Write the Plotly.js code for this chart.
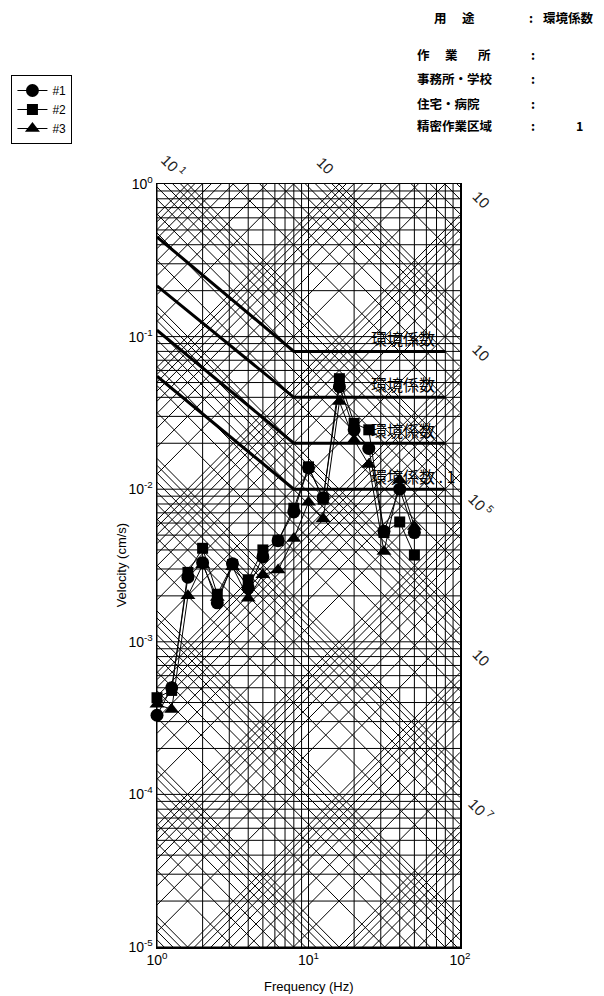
<!DOCTYPE html>
<html><head><meta charset="utf-8">
<script src="https://cdn.plot.ly/plotly-3.0.1.min.js"></script>
<style>html,body{margin:0;padding:0;background:#fff}#chart{width:604px;height:996px}</style>
</head><body><div id="chart"></div>
<script>
// ---- measured data (1/3 octave band centres) ----
const freqHz = [1, 1.25, 1.6, 2, 2.5, 3.15, 4, 5, 6.3, 8, 10, 12.5, 16, 20, 25, 31.5, 40, 50];
const series1 = [3.3e-4, 5.0e-4, 2.65e-3, 3.3e-3, 1.8e-3, 3.25e-3, 2.25e-3, 3.6e-3, 4.6e-3, 7.1e-3, 1.38e-2, 8.8e-3, 4.7e-2, 2.45e-2, 1.85e-2, 5.3e-3, 1.0e-2, 5.2e-3];
const series2 = [4.3e-4, 4.8e-4, 2.85e-3, 4.1e-3, 2.05e-3, 3.2e-3, 2.55e-3, 4.0e-3, 4.6e-3, 7.5e-3, 1.4e-2, 8.6e-3, 5.3e-2, 2.7e-2, 2.45e-2, 5.2e-3, 6.1e-3, 3.7e-3];
const series3 = [3.9e-4, 3.6e-4, 2.0e-3, 3.2e-3, 1.95e-3, 3.1e-3, 1.93e-3, 2.75e-3, 2.95e-3, 4.75e-3, 8.2e-3, 6.4e-3, 3.75e-2, 2.1e-2, 1.45e-2, 3.9e-3, 1.15e-2, 5.7e-3];
const seriesNames = ['#1', '#2', '#3'];
const seriesSymbols = ['circle', 'square', 'triangle-up'];
const seriesSizes = [13, 11, 13];

// ---- environmental criteria curves (環境係数) ----
const criteriaFreq = [1, 8, 80];
const criteriaA = [0.45, 0.08, 0.08];
const criteriaB = [0.215, 0.04, 0.04];
const criteriaC = [0.11, 0.02, 0.02];
const criteriaD = [0.055, 0.01, 0.01];
const criteriaLabels = ['環境係数', '環境係数', '環境係数', '環境係数 . 1'];
const criteriaLabelFreq = 25;

// ---- tripartite scale ----
const gridDigits = [1, 2, 3, 4, 5, 6, 7, 8, 9];
const freqDecades = [0, 1];
const velDecades = [-5, -4, -3, -2, -1];
const dispDecades = [-8, -7, -6, -5, -4, -3, -2, -1];
const accDecades = [-5, -4, -3, -2, -1, 0, 1, 2];
const accLabelExp = [1, 2];
const accLabelText = ['10<sup> 1</sup>', '10'];
const dispLabelExp = [-3, -4, -5, -6, -7];
const dispLabelText = ['10', '10', '10<sup> 5</sup>', '10', '10<sup> 7</sup>'];

// ---- header text ----
const headerRows = [
  {items: [['用', 432], ['途', 460]], colon: 528, y: 17, value: '環境係数', valueX: 542},
  {items: [['作', 415], ['業', 443], ['所', 476]], colon: 530, y: 54, value: '', valueX: 578},
  {items: [['事務所・学校', 415]], colon: 530, y: 79, value: '', valueX: 578},
  {items: [['住宅・病院', 415]], colon: 530, y: 103, value: '', valueX: 578},
  {items: [['精密作業区域', 415]], colon: 530, y: 126, value: '1', valueX: 575}
];

const F_MIN = 1, F_MAX = 100, V_MIN = 1e-5, V_MAX = 1;
const TWO_PI = 2 * Math.PI;
const L = 154, R = 460, T = 184, B = 947;
const xp = px => (px - L) / (R - L);
const yp = py => (B - py) / (B - T);
const lxp = lf => lf / 2;          // log10(f) -> paper
const lyp = lv => (lv + 5) / 5;    // log10(v) -> paper

const traces = [];
const gridLine = {color: '#000', width: 1};

// vertical & horizontal grid
{
  const xs = [], ys = [];
  freqDecades.forEach(n => gridDigits.forEach(k => {
    const f = k * Math.pow(10, n);
    xs.push(f, f, null); ys.push(V_MIN, V_MAX, null);
  }));
  velDecades.forEach(n => gridDigits.forEach(k => {
    const v = k * Math.pow(10, n);
    xs.push(F_MIN, F_MAX, null); ys.push(v, v, null);
  }));
  traces.push({x: xs, y: ys, mode: 'lines', line: gridLine, showlegend: false, hoverinfo: 'skip'});
}
// displacement lines (slope +1): v = 2*pi*f*d
{
  const xs = [], ys = [];
  dispDecades.forEach(n => gridDigits.forEach(k => {
    const d = k * Math.pow(10, n);
    xs.push(F_MIN, F_MAX, null); ys.push(TWO_PI * F_MIN * d, TWO_PI * F_MAX * d, null);
  }));
  traces.push({x: xs, y: ys, mode: 'lines', line: gridLine, showlegend: false, hoverinfo: 'skip'});
}
// acceleration lines (slope -1): v = a/(2*pi*f)
{
  const xs = [], ys = [];
  accDecades.forEach(n => gridDigits.forEach(k => {
    const a = k * Math.pow(10, n);
    xs.push(F_MIN, F_MAX, null); ys.push(a / (TWO_PI * F_MIN), a / (TWO_PI * F_MAX), null);
  }));
  traces.push({x: xs, y: ys, mode: 'lines', line: gridLine, showlegend: false, hoverinfo: 'skip'});
}

// criteria curves
[criteriaA, criteriaB, criteriaC, criteriaD].forEach(c => {
  traces.push({x: criteriaFreq, y: c, mode: 'lines', line: {color: '#000', width: 3}, showlegend: false, hoverinfo: 'skip'});
});

// data series
[series1, series2, series3].forEach((s, i) => {
  traces.push({
    x: freqHz, y: s, name: seriesNames[i], mode: 'lines+markers', cliponaxis: false,
    line: {color: '#000', width: 1},
    marker: {symbol: seriesSymbols[i], size: seriesSizes[i], color: '#000'}
  });
});

const annotations = [];
const labFont = {family: 'Liberation Sans, Arial, sans-serif', size: 15, color: '#222'};
accLabelExp.forEach((m, i) => {
  const lf = Math.log10(Math.pow(10, m) / TWO_PI);
  annotations.push({x: lxp(lf - 0.09), y: lyp(0.12), xref: 'paper', yref: 'paper', text: accLabelText[i], showarrow: false,
    textangle: 45, font: labFont, xanchor: 'center', yanchor: 'middle'});
});
dispLabelExp.forEach((n, i) => {
  const lv = Math.log10(TWO_PI * F_MAX * Math.pow(10, n));
  annotations.push({x: lxp(2 + 0.14), y: lyp(lv + 0.1), xref: 'paper', yref: 'paper', text: dispLabelText[i], showarrow: false,
    textangle: 45, font: labFont, xanchor: 'center', yanchor: 'middle'});
});
[criteriaA, criteriaB, criteriaC, criteriaD].forEach((c, i) => {
  annotations.push({x: Math.log10(criteriaLabelFreq), y: Math.log10(c[2]), xref: 'x', yref: 'y',
    text: criteriaLabels[i], showarrow: false, xanchor: 'left', yanchor: 'bottom', yshift: -1,
    font: {family: 'Noto Sans CJK JP, sans-serif', size: 16, color: '#000'}});
});
const hdrFont = {family: 'Noto Sans CJK JP, sans-serif', size: 12.5, color: '#000', weight: 'bold'};
headerRows.forEach(r => {
  r.items.forEach(([t, x]) => annotations.push({x: xp(x), y: yp(r.y), xref: 'paper', yref: 'paper', text: t,
    showarrow: false, xanchor: 'left', yanchor: 'middle', font: hdrFont}));
  annotations.push({x: xp(r.colon), y: yp(r.y), xref: 'paper', yref: 'paper', text: ':', showarrow: false,
    xanchor: 'left', yanchor: 'middle', font: hdrFont});
  if (r.value) annotations.push({x: xp(r.valueX), y: yp(r.y), xref: 'paper', yref: 'paper', text: r.value,
    showarrow: false, xanchor: 'left', yanchor: 'middle', font: hdrFont});
});
annotations.push({x: xp(118), y: yp(565), xref: 'paper', yref: 'paper', text: 'Velocity (cm/s)', textangle: -90,
  showarrow: false, xanchor: 'center', yanchor: 'middle', font: {family: 'Liberation Sans, Arial, sans-serif', size: 13, color: '#000'}});
annotations.push({x: xp(307), y: yp(986), xref: 'paper', yref: 'paper', text: 'Frequency (Hz)',
  showarrow: false, xanchor: 'center', yanchor: 'middle', font: {family: 'Liberation Sans, Arial, sans-serif', size: 13, color: '#000'}});

const xTickVals = [1, 10, 100];
const xTickText = ['10<sup>0</sup>', '10<sup>1</sup>', '10<sup>2</sup>'];
const yTickVals = [1e-5, 1e-4, 1e-3, 1e-2, 1e-1, 1];
const yTickText = ['10<sup>-5</sup>', '10<sup>-4</sup>', '10<sup>-3</sup>', '10<sup>-2</sup>', '10<sup>-1</sup>', '10<sup>0</sup>'];
const tickFont = {family: 'Liberation Sans, Arial, sans-serif', size: 14, color: '#000'};

const layout = {
  width: 604, height: 996,
  margin: {l: L, r: 604 - R, t: T, b: 996 - B},
  paper_bgcolor: '#fff', plot_bgcolor: '#fff',
  showlegend: true,
  legend: {x: xp(7), y: yp(75), xanchor: 'left', yanchor: 'top', bordercolor: '#000', borderwidth: 1,
    bgcolor: '#fff', font: {family: 'Liberation Sans, Arial, sans-serif', size: 12, color: '#000'},
    itemwidth: 30, tracegroupgap: 0},
  xaxis: {type: 'log', range: [0, 2], autorange: false, showgrid: false, zeroline: false,
    showline: true, mirror: true, linecolor: '#000', linewidth: 1.5, ticks: '',
    tickmode: 'array', tickvals: xTickVals, ticktext: xTickText, tickfont: tickFont},
  yaxis: {type: 'log', range: [-5, 0], autorange: false, showgrid: false, zeroline: false,
    showline: true, mirror: true, linecolor: '#000', linewidth: 1.5, ticks: '',
    tickmode: 'array', tickvals: yTickVals, ticktext: yTickText, tickfont: tickFont},
  annotations: annotations,
  hovermode: false
};
Plotly.newPlot('chart', traces, layout, {staticPlot: true, displayModeBar: false});
</script></body></html>
